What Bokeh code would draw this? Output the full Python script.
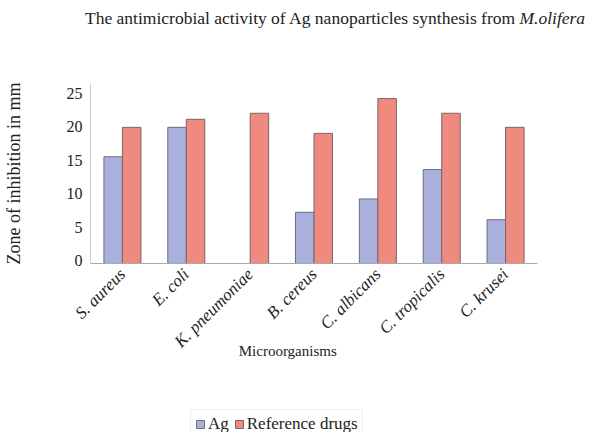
import math
from bokeh.plotting import figure
from bokeh.layouts import column
from bokeh.models import (ColumnDataSource, FactorRange, Range1d, FixedTicker, Legend, LegendItem,
                          Div, CDSView, BooleanFilter)
from bokeh.transform import dodge
from bokeh.embed import file_html
from bokeh.resources import INLINE

organisms = ["S. aureus", "E. coli", "K. pneumoniae", "B. cereus", "C. albicans", "C. tropicalis", "C. krusei"]
ag_values = [15.5, 19.9, 0, 7.2, 9.2, 13.6, 6.1]
reference_values = [19.9, 21.1, 22.0, 19.0, 24.2, 22.0, 19.9]
y_ticks = [0, 5, 10, 15, 20, 25]
series_names = ["Ag", "Reference drugs"]
series_colors = ["#a8b0db", "#ee8a80"]
series_edges = ["#6e6e80", "#7a6565"]

source = ColumnDataSource(dict(org=organisms, ag=ag_values, ref=reference_values))

FONT = "Liberation Serif"
TXT = "#222222"
W = 574
Y0 = -0.45

title = Div(text='The antimicrobial activity of Ag nanoparticles synthesis from <i>M.olifera</i>',
            width=W, height=40,
            styles={"font-family": "'Liberation Serif', serif", "font-size": "17.5px", "color": TXT,
                    "padding-left": "80px", "padding-top": "1px", "white-space": "nowrap"})

p = figure(width=W, height=348, output_backend="svg", toolbar_location=None,
           x_range=FactorRange(factors=organisms, range_padding=0),
           y_range=Range1d(Y0, 26.45),
           min_border_left=85, min_border_right=37, min_border_top=33, min_border_bottom=135)
p.outline_line_color = None
p.grid.visible = False

ag_view = CDSView(filter=BooleanFilter([v > 0 for v in ag_values]))
p.vbar(x=dodge("org", -0.145, range=p.x_range), top="ag", bottom=Y0, width=0.29, source=source,
       view=ag_view, fill_color=series_colors[0], line_color=series_edges[0], line_width=1)
p.vbar(x=dodge("org", 0.145, range=p.x_range), top="ref", bottom=Y0, width=0.29, source=source,
       fill_color=series_colors[1], line_color=series_edges[1], line_width=1)

p.yaxis.ticker = FixedTicker(ticks=y_ticks)
p.yaxis.major_tick_line_color = None
p.yaxis.minor_tick_line_color = None
p.yaxis.major_tick_out = 0
p.yaxis.major_tick_in = 0
p.yaxis.axis_line_color = "#cccccc"
p.yaxis.major_label_text_font = FONT
p.yaxis.major_label_text_font_size = "16px"
p.yaxis.major_label_text_color = TXT
p.yaxis.major_label_standoff = 8
p.yaxis.axis_label = "Zone of inhibition in mm"
p.yaxis.axis_label_text_font = FONT
p.yaxis.axis_label_text_font_style = "normal"
p.yaxis.axis_label_text_font_size = "18px"
p.yaxis.axis_label_text_color = TXT
p.yaxis.axis_label_standoff = 40

p.xaxis.axis_line_color = "#aaaaaa"
p.xaxis.major_tick_line_color = None
p.xaxis.major_tick_out = 0
p.xaxis.major_tick_in = 0
p.xaxis.major_label_orientation = math.radians(45)
p.xaxis.major_label_text_font = FONT
p.xaxis.major_label_text_font_style = "italic"
p.xaxis.major_label_text_font_size = "17px"
p.xaxis.major_label_text_color = TXT
p.xaxis.major_label_standoff = 8
# trailing no-break spaces nudge the centred label left, as in the original
p.xaxis.axis_label = "Microorganisms" + "\u00a0" * 14
p.xaxis.axis_label_text_font = FONT
p.xaxis.axis_label_text_font_style = "normal"
p.xaxis.axis_label_text_font_size = "15px"
p.xaxis.axis_label_text_color = TXT
p.xaxis.axis_label_standoff = -18

# legend strip below the chart (its frame is aligned with the chart's frame);
# its bars sit outside the visible y range so only the legend shows
pl = figure(width=W, height=36, output_backend="svg", toolbar_location=None,
            x_range=FactorRange(factors=organisms), y_range=Range1d(100, 101),
            x_axis_type=None, y_axis_type=None,
            min_border_left=85, min_border_right=37, min_border_top=0, min_border_bottom=0)
pl.outline_line_color = None
pl.grid.visible = False
items = []
for name, col, fc, lc in zip(series_names, ["ag", "ref"], series_colors, series_edges):
    r = pl.vbar(x="org", top=col, width=0.3, source=source, fill_color=fc, line_color=lc, line_width=1)
    items.append(LegendItem(label=name, renderers=[r]))
legend = Legend(items=items, orientation="horizontal", location=(100, -5),
                label_text_font=FONT, label_text_font_size="17px", label_text_color=TXT,
                glyph_width=10, glyph_height=10, spacing=5, padding=4, margin=0,
                label_standoff=3, border_line_color="#dddddd", background_fill_alpha=0)
pl.add_layout(legend)

layout = column(title, p, pl, spacing=0)
open("out.html", "w").write(file_html(layout, INLINE))
